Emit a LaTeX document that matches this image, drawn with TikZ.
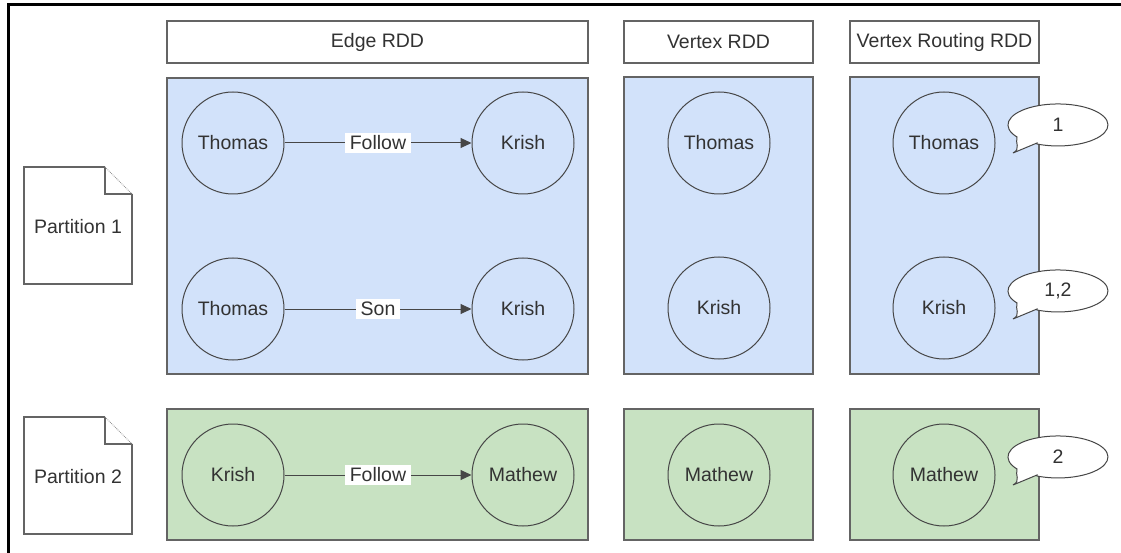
\documentclass[tikz,border=0pt]{standalone}
\usepackage{fontspec}
\setmainfont{Liberation Sans}
\usetikzlibrary{arrows.meta}
\definecolor{bluefill}{RGB}{210,226,250}
\definecolor{greenfill}{RGB}{200,226,194}
\definecolor{boxline}{RGB}{100,100,100}
\definecolor{circline}{RGB}{70,70,70}
\definecolor{txt}{RGB}{50,50,50}
\tikzset{
  every node/.style={font=\fontsize{19.5}{23}\selectfont, text=txt},
  hdr/.style={draw=boxline, line width=1.2pt, fill=white, rectangle, minimum height=42pt, inner sep=0pt},
  panelB/.style={draw=boxline, line width=1.2pt, fill=bluefill, rectangle, inner sep=0pt},
  panelG/.style={draw=boxline, line width=1.2pt, fill=greenfill, rectangle, inner sep=0pt},
  vtx/.style={draw=circline, line width=1pt, circle, minimum size=102pt, inner sep=0pt},
  lbl/.style={fill=white, inner xsep=5pt, inner ysep=3pt},
  arr/.style={draw=circline, line width=1pt, -{Triangle[length=11pt,width=10pt]}},
  docline/.style={draw=boxline, line width=1.2pt},
  callout/.style={draw=circline, line width=1pt, fill=white},
}
\begin{document}
\begin{tikzpicture}[x=1pt,y=-1pt]
\useasboundingbox (0,0) rectangle (1121,553);
\fill[white] (0,0) rectangle (1121,553);
% frame
\draw[black, line width=3pt] (8,553) -- (8,5) -- (1121,5);

% headers
\node[hdr, minimum width=421pt] (hE) at (377.5,42) {Edge RDD};
\node[hdr, minimum width=189pt] (hV) at (718.5,42) {Vertex RDD};
\node[hdr, minimum width=189pt] (hR) at (944.5,42) {Vertex Routing RDD};

% panels
\node[panelB, minimum width=421pt, minimum height=296pt] (pE1) at (377.5,226) {};
\node[panelG, minimum width=421pt, minimum height=131pt] (pE2) at (377.5,474.5) {};
\node[panelB, minimum width=189pt, minimum height=297pt] (pV1) at (718.5,225.5) {};
\node[panelG, minimum width=189pt, minimum height=131pt] (pV2) at (718.5,474.5) {};
\node[panelB, minimum width=189pt, minimum height=297pt] (pR1) at (944.5,225.5) {};
\node[panelG, minimum width=189pt, minimum height=131pt] (pR2) at (944.5,474.5) {};

% edge RDD vertices
\node[vtx] (e1a) at (233,143) {Thomas};
\node[vtx] (e1b) at (523,143) {Krish};
\node[vtx] (e2a) at (233,309) {Thomas};
\node[vtx] (e2b) at (523,309) {Krish};
\node[vtx] (e3a) at (233,475) {Krish};
\node[vtx] (e3b) at (523,475) {Mathew};
\draw[arr] (e1a) -- node[lbl]{Follow} (e1b);
\draw[arr] (e2a) -- node[lbl]{Son} (e2b);
\draw[arr] (e3a) -- node[lbl]{Follow} (e3b);

% vertex RDD
\node[vtx] (v1) at (719,143) {Thomas};
\node[vtx] (v2) at (719,308) {Krish};
\node[vtx] (v3) at (719,475) {Mathew};

% vertex routing RDD
\node[vtx] (r1) at (944,143) {Thomas};
\node[vtx] (r2) at (944,308) {Krish};
\node[vtx] (r3) at (944,475) {Mathew};

% callouts
\foreach \cy/\t/\nm in {124/1/c1, 290/{1,2}/c2, 456/2/c3}{
  \draw[callout] (1037,\cy+19) -- ++(-24,10)
    .. controls ++(8,-4) and ++(-2,6) .. ++(4,-16)
    arc[start angle=145, end angle=475, x radius=50, y radius=21] -- cycle;
  \node[inner sep=0pt] (\nm) at (1058,\cy+1) {\t};
}

% partition documents
\foreach \y/\t/\nm in {167/1/d1, 417/2/d2}{
  \draw[docline] (105,\y) -- (24,\y) -- (24,\y+117) -- (132,\y+117) -- (132,\y+27);
  \draw[docline] (105,\y) -- (105,\y+27) -- (132,\y+27);
  \draw[boxline!70, line width=0.8pt, densely dotted] (105,\y) -- (132,\y+27);
  \node (\nm) at (78,\y+60) {Partition \t};
}
\end{tikzpicture}
\end{document}
